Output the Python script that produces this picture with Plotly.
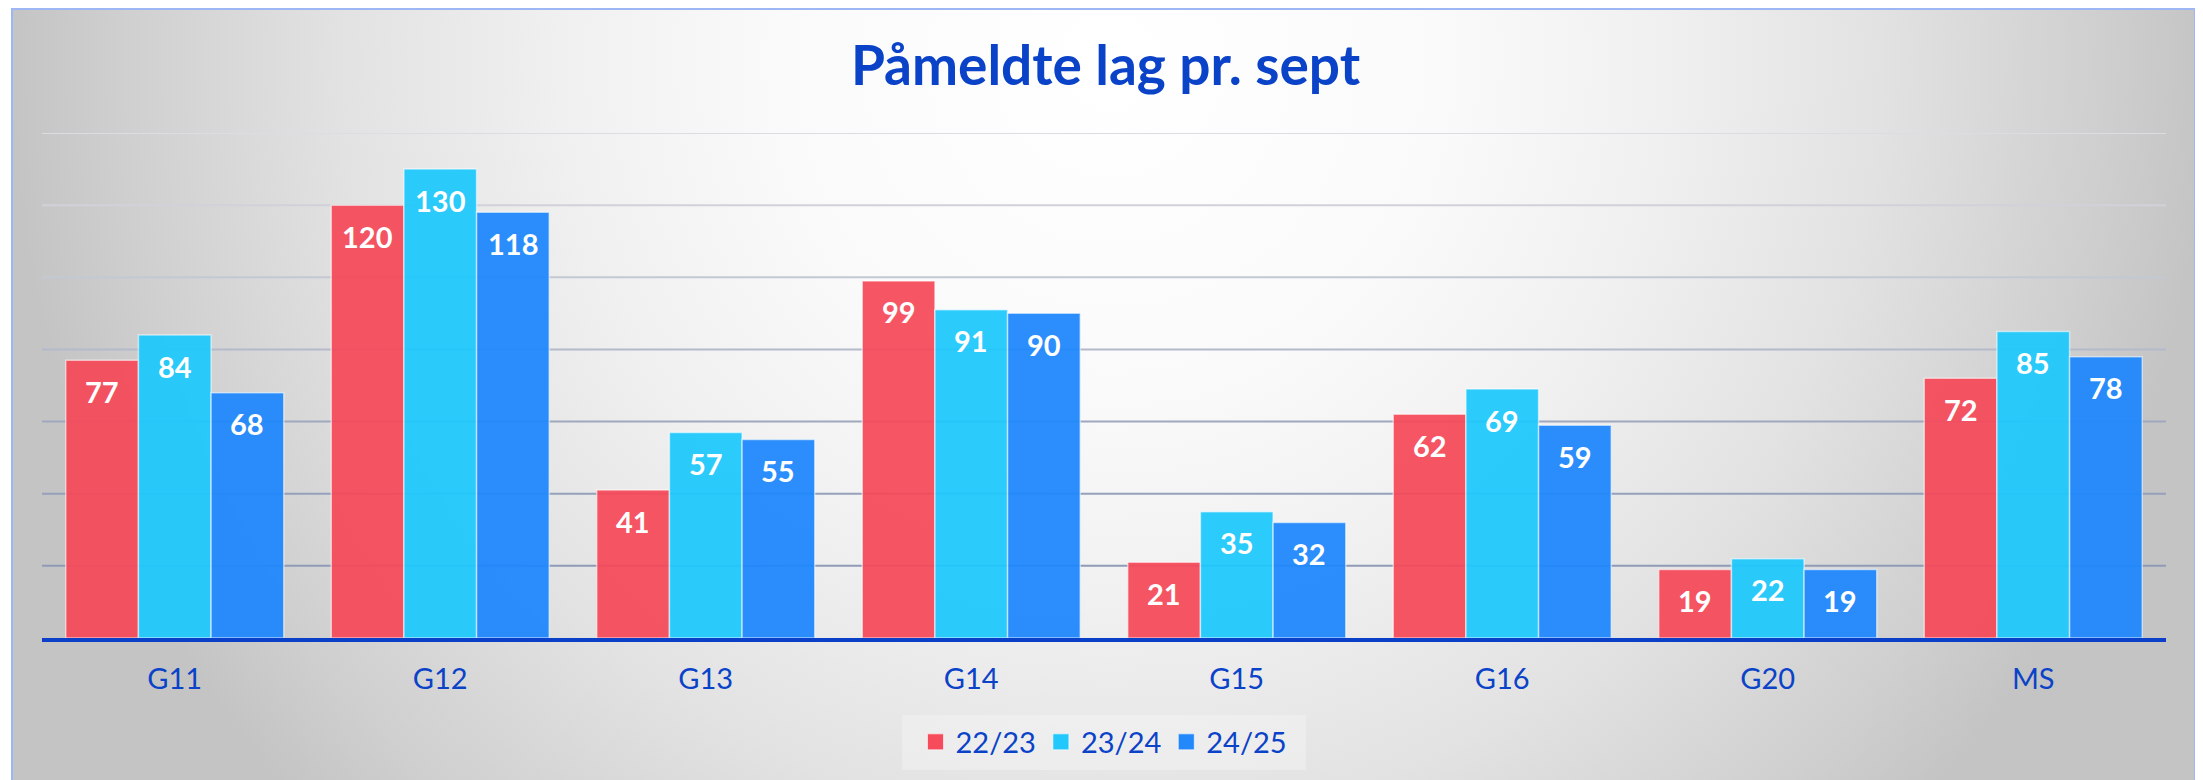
import base64
import plotly.graph_objects as go

# ---------------- data ----------------
categories = ["G11", "G12", "G13", "G14", "G15", "G16", "G20", "MS"]
series_names = ["22/23", "23/24", "24/25"]
values_2223 = [77, 120, 41, 99, 21, 62, 19, 72]
values_2324 = [84, 130, 57, 91, 35, 69, 22, 85]
values_2425 = [68, 118, 55, 90, 32, 59, 19, 78]
grid_values = [20, 40, 60, 80, 100, 120, 140]
title_text = "Påmeldte lag pr. sept"

# ---------------- style ----------------
PAGE_W, PAGE_H = 2203, 780
OFF = 8  # default body margin of the written html page
W, H = PAGE_W - OFF, PAGE_H - OFF


def px(x):
    return (x - OFF) / W


def py(y):
    return 1 - (y - OFF) / H


TEXT_BLUE = "#0A42C8"
bar_colors = ["rgba(245,72,88,0.93)", "rgba(30,200,252,0.94)", "rgba(30,135,252,0.94)"]
legend_colors = ["#F54B5A", "#22C8FB", "#2389FB"]
grid_colors = ["#8F9BB6", "#96A0BA", "#A0A8BE", "#B4BACA", "#C4C8D2", "#D0D2D8", "#DCDDE0"]
BARGAP = 0.179
FONT = "Lato"

x_dom = [px(42), px(2166)]
y_dom = [py(638), py(133)]

# background gradient (radial, light centre near the title, grey edges)
fw, fh = 2183, 772
svg = f'''<svg xmlns="http://www.w3.org/2000/svg" width="{fw}" height="{fh}" viewBox="0 0 {fw} {fh}" preserveAspectRatio="none">
<defs><radialGradient id="g" gradientUnits="userSpaceOnUse" cx="1098" cy="52" r="1100">
<stop offset="0" stop-color="rgb(255,255,255)"/>
<stop offset="0.3" stop-color="rgb(250,250,250)"/>
<stop offset="0.5" stop-color="rgb(240,240,240)"/>
<stop offset="0.7" stop-color="rgb(226,226,226)"/>
<stop offset="0.9" stop-color="rgb(207,207,207)"/>
<stop offset="1" stop-color="rgb(196,196,196)"/>
</radialGradient></defs>
<rect x="0" y="0" width="{fw}" height="{fh}" fill="url(#g)"/></svg>'''
svg_uri = "data:image/svg+xml;base64," + base64.b64encode(svg.encode()).decode()

fig = go.Figure()

all_values = [values_2223, values_2324, values_2425]
for name, vals, col in zip(series_names, all_values, bar_colors):
    fig.add_trace(go.Bar(
        x=categories, y=vals, name=name, showlegend=False,
        marker=dict(color=col, line=dict(color="rgba(255,255,255,0.55)", width=1.5)),
        hoverinfo="x+y+name",
    ))

# legend entries (square markers)
for name, col in zip(series_names, legend_colors):
    fig.add_trace(go.Scatter(
        x=[None], y=[None], mode="markers", name=name,
        marker=dict(symbol="square", size=16, color=col,
                    line=dict(color="rgba(255,255,255,0.6)", width=1)),
    ))

# value labels inside the top of each bar
plot_w = W * (x_dom[1] - x_dom[0])
cat_px = plot_w / len(categories)
bar_px = cat_px * (1 - BARGAP) / len(series_names)
annotations = []
for i, vals in enumerate(all_values):
    for cat, v in zip(categories, vals):
        annotations.append(dict(
            x=cat, y=v, xref="x", yref="y", text=str(v), showarrow=False,
            xshift=(i - 1) * bar_px, yshift=-31, yanchor="middle",
            font=dict(family=FONT, size=29, color="white", weight="bold"),
        ))

shapes = []
for gv, gc in zip(grid_values, grid_colors):
    shapes.append(dict(type="line", xref="x domain", yref="y", x0=0, x1=1, y0=gv, y1=gv,
                       line=dict(color=gc, width=2), layer="below"))
# legend background box
shapes.append(dict(type="rect", xref="paper", yref="paper",
                   x0=px(902), x1=px(1306), y0=py(770), y1=py(715),
                   fillcolor="rgba(255,255,255,0.28)", line=dict(width=0), layer="below"))
# outer frame
shapes.append(dict(type="rect", xref="paper", yref="paper",
                   x0=px(12), x1=px(2195), y0=-0.02, y1=py(9),
                   line=dict(color="#9DB6F6", width=2), layer="above"))

fig.update_layout(
    width=W, height=H,
    margin=dict(l=0, r=0, t=0, b=0),
    paper_bgcolor="white",
    plot_bgcolor="rgba(0,0,0,0)",
    barmode="group", bargap=BARGAP, bargroupgap=0,
    title=dict(text=title_text, x=0.5, xref="paper", xanchor="center",
               y=py(66), yref="paper", yanchor="middle",
               font=dict(family=FONT, size=55, color=TEXT_BLUE, weight="bold")),
    xaxis=dict(domain=x_dom, showline=True, linecolor="#0A3FC8", linewidth=4,
               showgrid=False, zeroline=False, ticks="", ticklabelstandoff=12,
               tickfont=dict(family=FONT, size=29, color=TEXT_BLUE)),
    yaxis=dict(domain=y_dom, range=[0, 140], showgrid=False, zeroline=False,
               showticklabels=False, showline=False),
    legend=dict(orientation="h", x=px(1104), xanchor="center", y=py(742), yanchor="middle",
                bgcolor="rgba(0,0,0,0)", font=dict(family=FONT, size=29, color=TEXT_BLUE),
                itemclick=False, itemdoubleclick=False),
    images=[dict(source=svg_uri, xref="paper", yref="paper", x=px(12), y=py(8),
                 sizex=fw / W, sizey=fh / H, xanchor="left", yanchor="top",
                 sizing="stretch", layer="below")],
    annotations=annotations,
    shapes=shapes,
)

fig.write_html("out.html")
